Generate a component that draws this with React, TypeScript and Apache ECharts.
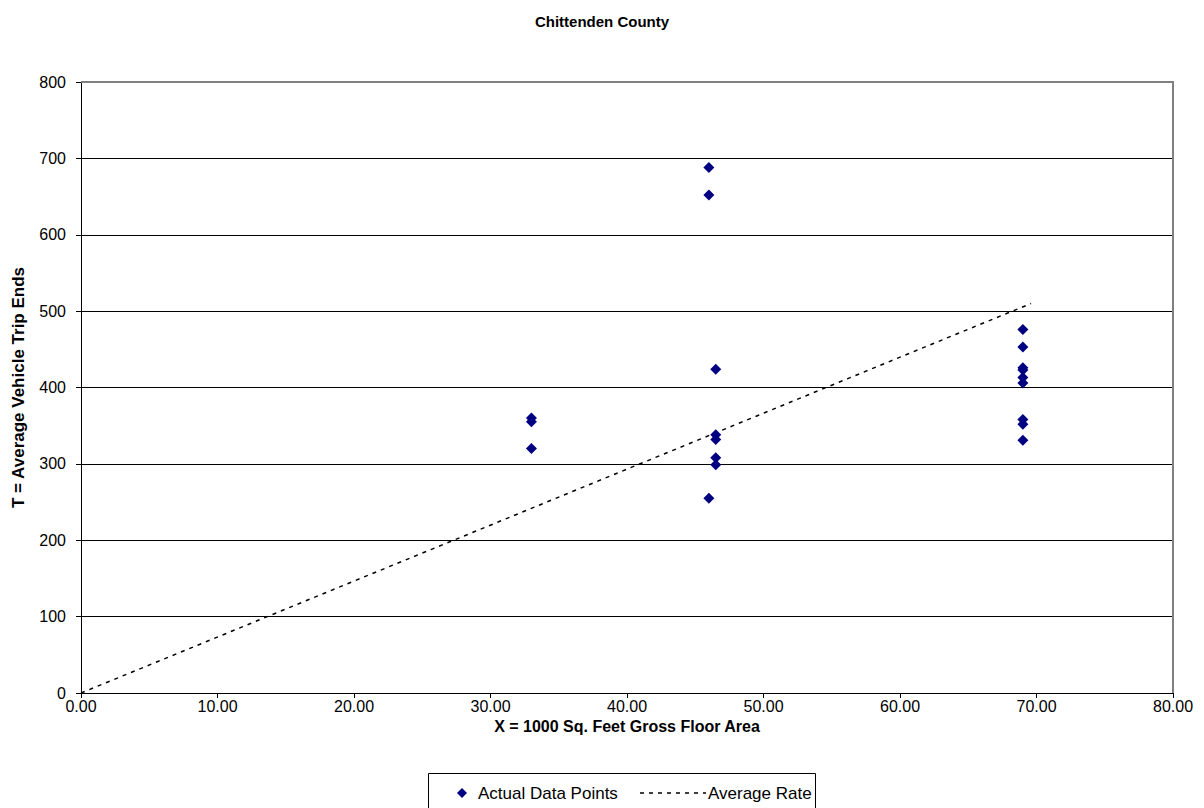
import React, { useEffect, useRef } from "react";
import * as echarts from "echarts";

const title = "Chittenden County";
const xAxisName = "X = 1000 Sq. Feet Gross Floor Area";
const yAxisName = "T = Average Vehicle Trip Ends";
const legendNames = ["Actual Data Points", "Average Rate"];

const pointX = [33, 33, 33, 46, 46, 46, 46.5, 46.5, 46.5, 46.5, 46.5, 69, 69, 69, 69, 69, 69, 69, 69, 69];
const pointT = [360, 355, 320, 688, 652, 255, 424, 338, 332, 308, 299, 476, 453, 426, 423, 413, 406, 358, 352, 331];

const rateX = [0, 69.6];
const rateT = [0, 510];

const FONT = "'Liberation Sans', Arial, sans-serif";
const NAVY = "#000080";

export default function App() {
  const ref = useRef<HTMLDivElement>(null);
  useEffect(() => {
    if (!ref.current) return;
    const chart = echarts.init(ref.current, null, { renderer: "svg" });
    const ly = 793;
    chart.setOption({
      animation: false,
      backgroundColor: "#ffffff",
      textStyle: { fontFamily: FONT },
      title: {
        text: title,
        left: "center",
        top: 9,
        textStyle: { fontSize: 15, fontWeight: "bold", color: "#000", fontFamily: FONT },
      },
      grid: { left: 81, right: 31, top: 82, bottom: 115 },
      xAxis: {
        type: "value",
        min: 0,
        max: 80,
        interval: 10,
        name: xAxisName,
        nameLocation: "middle",
        nameGap: 18,
        nameTextStyle: { fontSize: 16, fontWeight: "bold", color: "#000", fontFamily: FONT },
        axisLine: { show: true, onZero: false, lineStyle: { color: "#000", width: 1 } },
        axisTick: { show: true, inside: false, length: 5, lineStyle: { color: "#000" } },
        axisLabel: { fontSize: 16, color: "#000", margin: 5, formatter: (v: number) => v.toFixed(2) },
        splitLine: { show: false },
      },
      yAxis: {
        type: "value",
        min: 0,
        max: 800,
        interval: 100,
        name: yAxisName,
        nameLocation: "middle",
        nameGap: 54,
        nameTextStyle: { fontSize: 17, fontWeight: "bold", color: "#000", fontFamily: FONT },
        axisLine: { show: true, onZero: false, lineStyle: { color: "#000", width: 1 } },
        axisTick: { show: true, inside: false, length: 5, lineStyle: { color: "#000" } },
        axisLabel: { fontSize: 16, color: "#000", margin: 15 },
        splitLine: { show: true, lineStyle: { color: "#000", width: 1 } },
      },
      graphic: [
        {
          type: "polyline",
          shape: { points: [[81, 82], [1173, 82], [1173, 693]] },
          style: { stroke: "#808080", lineWidth: 2, fill: "none" },
          z: 1,
        },
        {
          type: "rect",
          shape: { x: 428.5, y: 773.5, width: 387, height: 50 },
          style: { stroke: "#000", lineWidth: 1, fill: "#fff" },
          z: 10,
        },
        {
          type: "polygon",
          shape: { points: [[462, ly - 5], [467, ly], [462, ly + 5], [457, ly]] },
          style: { fill: NAVY },
          z: 11,
        },
        {
          type: "text",
          x: 478,
          y: ly,
          style: { text: legendNames[0], font: `17px ${FONT}`, fill: "#000", verticalAlign: "middle" },
          z: 11,
        },
        {
          type: "line",
          shape: { x1: 640, y1: ly, x2: 706, y2: ly },
          style: { stroke: "#000", lineWidth: 1.5, lineDash: [4, 5] },
          z: 11,
        },
        {
          type: "text",
          x: 708,
          y: ly,
          style: { text: legendNames[1], font: `17px ${FONT}`, fill: "#000", verticalAlign: "middle" },
          z: 11,
        },
      ],
      series: [
        {
          name: legendNames[0],
          type: "scatter",
          symbol: "diamond",
          symbolSize: 11,
          itemStyle: { color: NAVY, opacity: 1 },
          data: pointX.map((x, i) => [x, pointT[i]]),
          z: 5,
        },
        {
          name: legendNames[1],
          type: "line",
          symbol: "none",
          lineStyle: { color: "#000", width: 1.5, type: [4, 5] },
          itemStyle: { color: "#000" },
          data: rateX.map((x, i) => [x, rateT[i]]),
          z: 4,
        },
      ],
    });
    return () => chart.dispose();
  }, []);
  return <div ref={ref} style={{ width: 1204, height: 808, position: "absolute", left: 0, top: 0 }} />;
}
